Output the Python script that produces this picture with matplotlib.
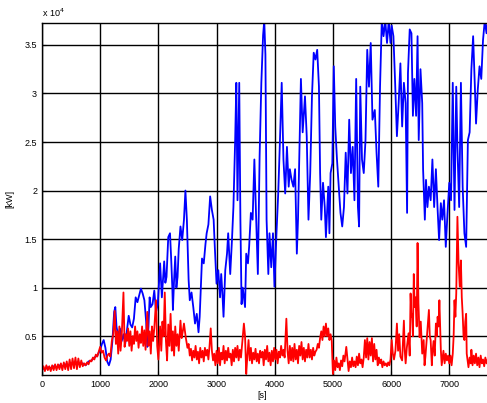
import matplotlib
matplotlib.use("Agg")
import matplotlib.pyplot as plt

# blue series: time [s] and power [kW]
t_blue = [0, 50, 100, 150, 200, 250, 300, 350, 400, 450, 500, 550, 600, 650, 700, 750, 800, 850, 900, 950,
          1000, 1030, 1060, 1090, 1120, 1150, 1180, 1210, 1240, 1260, 1280, 1310, 1340, 1370, 1400, 1430, 1460,
          1490, 1520, 1550, 1580, 1610, 1640, 1670, 1700, 1730, 1760, 1790, 1810, 1830, 1850, 1870, 1900, 1930,
          1960, 1990, 2010, 2030, 2060, 2080, 2100, 2120, 2140, 2170, 2200, 2220, 2240, 2250, 2270, 2290, 2310,
          2330, 2350, 2380, 2410, 2440, 2465, 2490, 2510, 2520, 2540, 2570, 2600, 2630, 2660, 2690, 2710, 2730,
          2750, 2780, 2810, 2830, 2860, 2890, 2920, 2950, 2970, 3000, 3030, 3060, 3080, 3100, 3120, 3150, 3180,
          3200, 3235, 3265, 3290, 3320, 3340, 3360, 3390, 3410, 3430, 3450, 3470, 3490, 3510, 3540, 3560, 3590,
          3620, 3650, 3680, 3710, 3740, 3770, 3800, 3820, 3840, 3860, 3890, 3910, 3940, 3970, 3995, 4030, 4060,
          4090, 4120, 4150, 4180, 4210, 4240, 4260, 4290, 4320, 4350, 4380, 4400, 4430, 4450, 4480, 4520, 4550,
          4580, 4610, 4640, 4670, 4700, 4730, 4760, 4780, 4800, 4830, 4860, 4880, 4920, 4940, 4960, 4990, 5015,
          5040, 5070, 5100, 5130, 5160, 5190, 5220, 5250, 5280, 5310, 5340, 5370, 5400, 5430, 5450, 5470, 5500,
          5530, 5560, 5590, 5620, 5650, 5680, 5720, 5750, 5780, 5810, 5840, 5870, 5900, 5930, 5960, 5990, 6010,
          6040, 6070, 6100, 6130, 6160, 6190, 6220, 6250, 6275, 6290, 6320, 6350, 6375, 6400, 6430, 6455, 6475,
          6505, 6535, 6550, 6580, 6600, 6625, 6650, 6680, 6710, 6740, 6770, 6800, 6825, 6855, 6880, 6910, 6940,
          6970, 7000, 7030, 7060, 7090, 7120, 7140, 7170, 7200, 7230, 7260, 7290, 7320, 7350, 7380, 7410, 7440,
          7460, 7490, 7520, 7550, 7580, 7610, 7640, 7660]
p_blue = [1700, 1600, 1800, 1700, 1900, 1800, 2000, 1900, 2100, 2000, 2200, 2100, 2300, 2100, 2200, 2000, 2400,
          2500, 2800, 3000, 3600, 4200, 4600, 3800, 2400, 2000, 2600, 4500, 7500, 8000, 6000, 5000, 5800, 4500,
          5200, 4200, 5600, 7100, 6200, 5900, 6800, 9000, 8500, 9200, 9900, 9400, 8700, 6500, 3900, 6000, 9000,
          8000, 8300, 9700, 7500, 8300, 10500, 12500, 9000, 10800, 12700, 10500, 11100, 15200, 15600, 13000,
          10000, 7700, 10800, 13200, 10000, 11100, 14000, 16300, 14900, 17000, 20000, 17000, 13000, 10800, 8700,
          9500, 8000, 6300, 7300, 5400, 7000, 10000, 13000, 12500, 14500, 15600, 16500, 19400, 18000, 17000,
          14200, 10400, 11800, 9000, 11400, 9500, 7000, 11800, 13500, 15600, 11400, 14900, 18300, 25200, 31100,
          19000, 31100, 17000, 8300, 10000, 9000, 8000, 13500, 12500, 14200, 17700, 17000, 23200, 17400, 11400,
          23500, 31100, 36000, 37500, 34000, 17000, 11400, 15600, 12100, 15600, 10100, 15600, 19700, 25200,
          31100, 23200, 19700, 24500, 20400, 22200, 21100, 20400, 22200, 13500, 17000, 25600, 31500, 26000,
          29700, 25600, 17000, 21800, 29700, 34200, 33500, 34500, 30700, 21800, 17000, 20800, 18300, 15200,
          20400, 15600, 21800, 22800, 32800, 26600, 23200, 20400, 17700, 16300, 18300, 23900, 19700, 27300,
          21800, 24500, 19000, 31500, 18300, 16300, 30700, 23200, 21800, 25200, 34500, 30700, 35200, 27300,
          28300, 23900, 20400, 30700, 37500, 35900, 37500, 35200, 37500, 35200, 37000, 35900, 31000, 25600,
          29000, 33100, 26600, 31100, 29000, 17700, 32100, 36600, 36200, 27700, 31500, 27700, 35900, 25200,
          32500, 29000, 22200, 17000, 21100, 18300, 20400, 19000, 23200, 18300, 22200, 18000, 14900, 18700,
          17000, 19000, 14200, 17700, 20800, 19000, 31100, 18000, 30700, 24500, 18300, 31100, 20400, 15600,
          14200, 25200, 26000, 32500, 35900, 30700, 26900, 30400, 32800, 31500, 35500, 37500, 36200, 37500]

# red series: time [s] and power [kW]
t_red = [0, 25, 50, 75, 100, 125, 150, 175, 200, 225, 250, 275, 300, 325, 350, 375, 400, 425, 450, 475, 500,
         525, 550, 575, 600, 625, 650, 675, 700, 725, 750, 775, 800, 825, 850, 875, 900, 925, 950, 975, 1000,
         1025, 1050, 1075, 1100, 1125, 1150, 1175, 1200, 1225, 1250, 1270, 1290, 1310, 1330, 1350, 1370, 1400,
         1420, 1440, 1460, 1480, 1500, 1520, 1540, 1560, 1580, 1600, 1620, 1640, 1660, 1680, 1700, 1720, 1740,
         1760, 1780, 1810, 1830, 1850, 1870, 1890, 1910, 1930, 1960, 1980, 2000, 2030, 2050, 2070, 2090, 2110,
         2130, 2150, 2170, 2190, 2210, 2230, 2250, 2270, 2290, 2310, 2330, 2350, 2380, 2400, 2420, 2440, 2470,
         2500, 2520, 2540, 2560, 2580, 2600, 2620, 2640, 2660, 2680, 2700, 2720, 2740, 2760, 2780, 2800, 2820,
         2840, 2860, 2880, 2900, 2920, 2940, 2960, 2980, 3000, 3020, 3040, 3060, 3080, 3100, 3120, 3140, 3160,
         3180, 3200, 3220, 3240, 3260, 3280, 3300, 3320, 3340, 3360, 3380, 3400, 3420, 3440, 3470, 3490, 3510,
         3530, 3550, 3570, 3590, 3610, 3630, 3650, 3670, 3690, 3710, 3730, 3750, 3770, 3790, 3810, 3830, 3850,
         3870, 3890, 3910, 3930, 3950, 3970, 3990, 4010, 4030, 4050, 4070, 4090, 4110, 4130, 4150, 4170, 4200,
         4220, 4240, 4260, 4280, 4300, 4320, 4340, 4360, 4380, 4400, 4420, 4440, 4460, 4480, 4500, 4520, 4540,
         4560, 4580, 4600, 4620, 4640, 4660, 4680, 4700, 4720, 4740, 4760, 4780, 4800, 4820, 4840, 4860, 4880,
         4900, 4920, 4940, 4960, 4980, 5000, 5020, 5040, 5060, 5080, 5100, 5120, 5140, 5160, 5180, 5200, 5230,
         5250, 5270, 5290, 5310, 5330, 5350, 5370, 5390, 5410, 5430, 5450, 5470, 5490, 5510, 5530, 5550, 5570,
         5590, 5610, 5630, 5650, 5670, 5690, 5710, 5730, 5750, 5770, 5790, 5810, 5830, 5850, 5870, 5890, 5910,
         5930, 5950, 5970, 5990, 6010, 6030, 6050, 6075, 6100, 6120, 6140, 6160, 6190, 6220, 6235, 6250, 6270,
         6300, 6320, 6335, 6350, 6360, 6375, 6390, 6405, 6420, 6440, 6455, 6470, 6490, 6510, 6535, 6560, 6575,
         6590, 6610, 6630, 6650, 6665, 6680, 6700, 6710, 6730, 6750, 6770, 6785, 6800, 6815, 6830, 6845, 6855,
         6870, 6880, 6900, 6920, 6940, 6960, 6980, 7000, 7020, 7040, 7060, 7075, 7090, 7105, 7120, 7140, 7160,
         7180, 7200, 7215, 7230, 7245, 7260, 7275, 7290, 7300, 7315, 7330, 7350, 7370, 7380, 7400, 7420, 7440,
         7460, 7480, 7500, 7520, 7540, 7560, 7580, 7600, 7620, 7640, 7660]
p_red = [1500, 1900, 1400, 2000, 1500, 1900, 1400, 2000, 1500, 2100, 1500, 2100, 1600, 2200, 1500, 2300, 1600,
         2400, 1500, 2600, 1600, 2700, 1700, 2800, 1600, 2700, 1800, 2500, 1900, 2200, 2000, 2300, 2100, 2500,
         2400, 2800, 2600, 3100, 2900, 3400, 3900, 3300, 3500, 2800, 2500, 3000, 3200, 2900, 4500, 5200, 7600,
         4200, 5500, 3200, 6000, 3500, 5000, 9500, 3900, 5200, 4500, 5800, 4000, 5500, 3500, 5000, 4200, 6000,
         4500, 5500, 3800, 5200, 4300, 6000, 4000, 5600, 3600, 7500, 4000, 5500, 3200, 6000, 4500, 5800, 8700,
         4000, 2600, 6000, 3500, 6500, 5000, 9500, 4500, 2500, 6200, 4000, 7300, 3500, 5500, 3000, 6000, 4000,
         5200, 3500, 6600, 4800, 5500, 6300, 4900, 3800, 4200, 3000, 3700, 2500, 3500, 2800, 4000, 2600, 3400,
         2200, 3800, 2800, 3500, 2400, 3800, 3000, 3600, 2600, 4000, 5800, 3500, 2500, 3200, 2000, 3500, 2200,
         3800, 2000, 3300, 2600, 4000, 2200, 3500, 2500, 3800, 2800, 3200, 2000, 3600, 2400, 3800, 2800, 4000,
         2500, 3600, 2800, 4200, 6300, 5000, 1100, 3000, 4600, 2500, 3800, 2200, 3300, 2600, 3700, 2400, 3200,
         2200, 3500, 2800, 3400, 2000, 3600, 2600, 4000, 2400, 3300, 2000, 3500, 2400, 3800, 2600, 3600, 2200,
         3400, 2800, 4000, 3000, 3600, 2800, 6800, 3500, 2200, 4000, 2500, 3800, 2400, 4200, 2600, 3600, 2200,
         4000, 3000, 4400, 2600, 3800, 2400, 3600, 2800, 4200, 2800, 3600, 2600, 3800, 3000, 3400, 3600, 4200,
         3800, 4800, 5500, 4600, 6000, 5000, 6300, 5000, 5800, 4600, 5200, 4500, 1100, 2500, 1500, 2800, 1800,
         2200, 1500, 2500, 1900, 3000, 2400, 3900, 2600, 1400, 2400, 1800, 2800, 1900, 2400, 1800, 2900, 2000,
         3200, 2200, 2600, 1800, 2800, 4600, 2800, 4800, 2600, 4400, 3000, 4800, 2400, 4200, 2600, 3600, 2000,
         2800, 2200, 2600, 1800, 2400, 2000, 2200, 1900, 2300, 2000, 2600, 4600, 3200, 2600, 3500, 6300, 3500,
         5200, 2900, 2500, 6600, 3500, 2200, 3800, 5300, 3000, 9400, 7000, 7300, 5000, 11400, 8000, 9000, 6000,
         14600, 8400, 4900, 6500, 3200, 4600, 2000, 2900, 4500, 6000, 7700, 5000, 4600, 2000, 3200, 4500, 3000,
         6300, 5000, 7000, 6000, 8700, 5500, 3600, 2000, 2500, 3500, 2200, 3200, 2500, 3000, 2200, 3000, 2000,
         3200, 5000, 8700, 7000, 9400, 17300, 12500, 10100, 12800, 9000, 7300, 5000, 4600, 6500, 7300, 3200,
         2500, 1800, 2800, 2200, 3600, 2000, 3000, 2200, 3200, 2000, 2800, 1800, 3000, 2200, 2600, 1900, 2800,
         2200, 2600]

x_ticks = [0, 1000, 2000, 3000, 4000, 5000, 6000, 7000]
y_ticks = [5000, 10000, 15000, 20000, 25000, 30000, 35000]
y_tick_labels = ["0.5", "1", "1.5", "2", "2.5", "3", "3.5"]

plt.rcParams['font.family'] = ['Liberation Sans', 'DejaVu Sans']
fig = plt.figure(figsize=(4.87, 4.03), dpi=100)
ax = fig.add_axes([42 / 487, 28 / 403, 448 / 487, 352 / 403])

ax.plot(t_blue, p_blue, color='#0000ff', lw=1.3)
ax.plot(t_red, p_red, color='#ff0000', lw=1.3)

ax.set_xlim(0, 7700)
ax.set_ylim(1000, 37260)
ax.set_xticks(x_ticks)
ax.set_xticklabels([str(v) for v in x_ticks])
ax.set_yticks(y_ticks)
ax.set_yticklabels(y_tick_labels)
ax.tick_params(direction='in', length=3, labelsize=6.5, colors='black')
ax.grid(True, color='black', lw=1.0, ls='-')
for s in ax.spines.values():
    s.set_linewidth(1.0)

ax.set_xlabel("[s]", fontsize=6.5)
ax.xaxis.set_label_coords((262 - 42) / 448, -0.045)
ax.set_ylabel("[kW]", fontsize=6.5)
ax.yaxis.set_label_coords(-0.062, 0.5)
ax.text(0.0, 1.012, r"x 10$^4$", transform=ax.transAxes, fontsize=6.5, ha='left', va='bottom')

fig.savefig("out.png", dpi=100)
